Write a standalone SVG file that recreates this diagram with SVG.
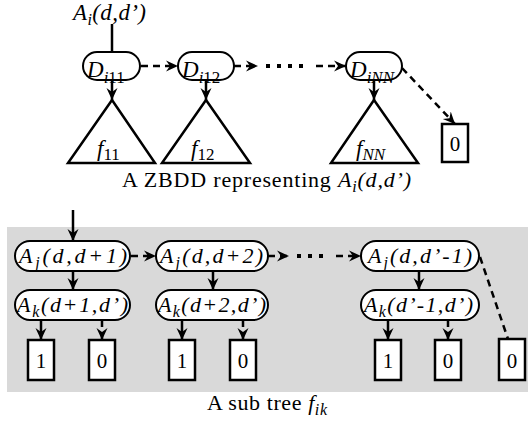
<svg xmlns="http://www.w3.org/2000/svg" width="528" height="423" viewBox="0 0 528 423">
<style>
text{font-family:"Liberation Serif","Times New Roman","DejaVu Serif",serif;fill:#000}
.it{font-style:italic}
.up{font-style:normal}
.ln{stroke:#000;stroke-width:2.5;fill:none}
.da{stroke-dasharray:7 5}
.dt{stroke-dasharray:4 7;stroke-width:4}
.pill{fill:#fff;stroke:#000;stroke-width:2}
.tri{fill:#fff;stroke:#000;stroke-width:2.5;stroke-linejoin:miter}
.box{fill:#fff;stroke:#000;stroke-width:2.5}
</style>
<defs>
<marker id="ah" markerUnits="userSpaceOnUse" markerWidth="13" markerHeight="13" viewBox="0 0 13 13" refX="12" refY="6.5" orient="auto">
<path d="M0,1 L12,6.5 L0,12 L4,6.5 Z" fill="#000"/>
</marker>
</defs>

<rect x="7" y="227" width="521" height="165" fill="#d9d9d9"/>

<g id="connectors">
<line class="ln" x1="112" y1="24" x2="112" y2="52"/>
<line class="ln" x1="112" y1="80" x2="112" y2="100" marker-end="url(#ah)"/>
<line class="ln" x1="206" y1="80" x2="206" y2="100" marker-end="url(#ah)"/>
<line class="ln" x1="374" y1="80" x2="374" y2="100" marker-end="url(#ah)"/>
<line class="ln da" x1="141" y1="66" x2="178" y2="66" marker-end="url(#ah)"/>
<line class="ln da" x1="234" y1="66" x2="258" y2="66" marker-end="url(#ah)"/>
<line class="ln dt" x1="266" y1="66" x2="310" y2="66"/>
<line class="ln da" x1="316" y1="66" x2="346" y2="66" marker-end="url(#ah)"/>
<line class="ln da" x1="402" y1="68" x2="455" y2="124" marker-end="url(#ah)"/>

<line class="ln" x1="73" y1="210" x2="73" y2="241" marker-end="url(#ah)"/>
<line class="ln" x1="73" y1="271" x2="73" y2="290" marker-end="url(#ah)"/>
<line class="ln" x1="213" y1="271" x2="213" y2="290" marker-end="url(#ah)"/>
<line class="ln" x1="419" y1="271" x2="419" y2="290" marker-end="url(#ah)"/>
<line class="ln da" x1="131" y1="256" x2="156" y2="256" marker-end="url(#ah)"/>
<line class="ln da" x1="268" y1="256" x2="289" y2="256" marker-end="url(#ah)"/>
<line class="ln dt" x1="297" y1="256" x2="330" y2="256"/>
<line class="ln da" x1="336" y1="256" x2="361" y2="256" marker-end="url(#ah)"/>
<line class="ln da" x1="480" y1="257" x2="508" y2="339"/>

<line class="ln" x1="41" y1="320" x2="41" y2="340" marker-end="url(#ah)"/>
<line class="ln da" x1="102" y1="320" x2="102" y2="340" marker-end="url(#ah)"/>
<line class="ln" x1="182" y1="320" x2="182" y2="340" marker-end="url(#ah)"/>
<line class="ln da" x1="243" y1="320" x2="243" y2="340" marker-end="url(#ah)"/>
<line class="ln" x1="388" y1="320" x2="388" y2="340" marker-end="url(#ah)"/>
<line class="ln da" x1="448" y1="320" x2="448" y2="340" marker-end="url(#ah)"/>
</g>

<text x="73" y="20" class="it" font-size="23" textLength="73" lengthAdjust="spacing">A<tspan font-size="16" dy="5">i</tspan><tspan dy="-5">(d,d’)</tspan></text>

<g id="Di11">
<rect class="pill" x="83" y="52" width="57" height="28" rx="14"/>
<text x="87" y="77" class="it" font-size="23">D<tspan font-size="17" dy="6">i<tspan class="up">11</tspan></tspan></text>
</g>
<g id="Di12">
<rect class="pill" x="178" y="52" width="56" height="28" rx="14"/>
<text x="182" y="77" class="it" font-size="23">D<tspan font-size="17" dy="6">i<tspan class="up">12</tspan></tspan></text>
</g>
<g id="DiNN">
<rect class="pill" x="346" y="52" width="56" height="28" rx="14"/>
<text x="350" y="77" class="it" font-size="23">D<tspan font-size="17" dy="6">iNN</tspan></text>
</g>

<g id="f11">
<polygon class="tri" points="112,100 68,163 155,163"/>
<text x="97" y="156" class="it" font-size="23">f<tspan class="up" font-size="17" dy="4">11</tspan></text>
</g>
<g id="f12">
<polygon class="tri" points="206,100 162,163 250,163"/>
<text x="191" y="156" class="it" font-size="23">f<tspan class="up" font-size="17" dy="4">12</tspan></text>
</g>
<g id="fNN">
<polygon class="tri" points="374,100 331,163 418,163"/>
<text x="356" y="156" class="it" font-size="23">f<tspan font-size="17" dy="4">NN</tspan></text>
</g>

<g id="zero-top">
<rect class="box" x="442" y="124" width="26" height="38"/>
<text x="455" y="151" font-size="21" text-anchor="middle">0</text>
</g>

<text x="122" y="187" font-size="22" textLength="289" lengthAdjust="spacing">A ZBDD representing <tspan class="it">A<tspan font-size="16" dy="5">i</tspan><tspan dy="-5">(d,d’)</tspan></tspan></text>

<g id="Aj1">
<rect class="pill" x="15" y="241" width="115" height="30" rx="15"/>
<text x="19" y="263" class="it" font-size="22" textLength="108" lengthAdjust="spacing">A<tspan font-size="16" dy="5">j</tspan><tspan dy="-5">(d,d+1)</tspan></text>
</g>
<g id="Ak1">
<rect class="pill" x="15" y="290" width="115" height="30" rx="15"/>
<text x="17" y="312" class="it" font-size="22" textLength="111" lengthAdjust="spacing">A<tspan font-size="16" dy="5">k</tspan><tspan dy="-5">(d+1,d’)</tspan></text>
</g>
<g id="Aj2">
<rect class="pill" x="156" y="241" width="112" height="30" rx="15"/>
<text x="160" y="263" class="it" font-size="22" textLength="103" lengthAdjust="spacing">A<tspan font-size="16" dy="5">j</tspan><tspan dy="-5">(d,d+2)</tspan></text>
</g>
<g id="Ak2">
<rect class="pill" x="156" y="290" width="112" height="30" rx="15"/>
<text x="158" y="312" class="it" font-size="22" textLength="108" lengthAdjust="spacing">A<tspan font-size="16" dy="5">k</tspan><tspan dy="-5">(d+2,d’)</tspan></text>
</g>
<g id="Aj3">
<rect class="pill" x="361" y="241" width="118" height="30" rx="15"/>
<text x="368" y="263" class="it" font-size="22" textLength="104" lengthAdjust="spacing">A<tspan font-size="16" dy="5">j</tspan><tspan dy="-5">(d,d’-1)</tspan></text>
</g>
<g id="Ak3">
<rect class="pill" x="361" y="290" width="118" height="30" rx="15"/>
<text x="364" y="312" class="it" font-size="22" textLength="109" lengthAdjust="spacing">A<tspan font-size="16" dy="5">k</tspan><tspan dy="-5">(d’-1,d’)</tspan></text>
</g>

<g id="b1a"><rect class="box" x="28" y="340" width="26" height="40"/><text x="41" y="368" font-size="21" text-anchor="middle">1</text></g>
<g id="b0a"><rect class="box" x="89" y="340" width="26" height="40"/><text x="102" y="368" font-size="21" text-anchor="middle">0</text></g>
<g id="b1b"><rect class="box" x="169" y="340" width="26" height="40"/><text x="182" y="368" font-size="21" text-anchor="middle">1</text></g>
<g id="b0b"><rect class="box" x="230" y="340" width="26" height="40"/><text x="243" y="368" font-size="21" text-anchor="middle">0</text></g>
<g id="b1c"><rect class="box" x="375" y="340" width="26" height="40"/><text x="388" y="368" font-size="21" text-anchor="middle">1</text></g>
<g id="b0c"><rect class="box" x="435" y="340" width="26" height="40"/><text x="448" y="368" font-size="21" text-anchor="middle">0</text></g>
<g id="b0d"><rect class="box" x="499" y="339" width="26" height="41"/><text x="512" y="368" font-size="21" text-anchor="middle">0</text></g>

<text x="207" y="410" font-size="22" textLength="120" lengthAdjust="spacing">A sub tree <tspan class="it">f<tspan font-size="16" dy="5">ik</tspan></tspan></text>
</svg>
